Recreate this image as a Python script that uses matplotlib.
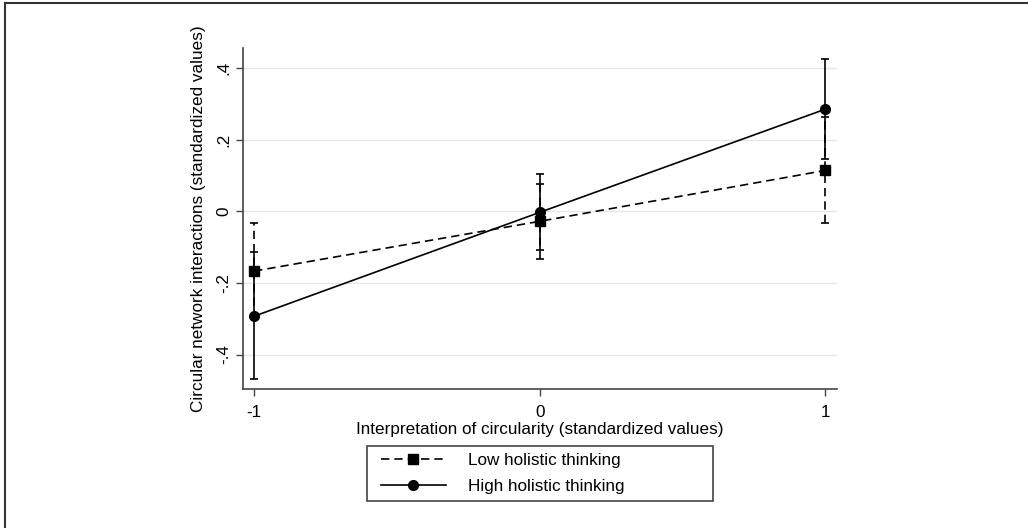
import matplotlib
matplotlib.use("Agg")
import matplotlib.pyplot as plt
from matplotlib.lines import Line2D
from matplotlib.patches import Rectangle

plt.rcParams['font.family'] = ['Liberation Sans', 'DejaVu Sans']

x = [-1, 0, 1]
low_y = [-0.167, -0.028, 0.114]
low_lo = [-0.302, -0.132, -0.034]
low_hi = [-0.032, 0.077, 0.262]
high_y = [-0.293, -0.003, 0.285]
high_lo = [-0.469, -0.109, 0.146]
high_hi = [-0.115, 0.103, 0.424]

xticks = [-1, 0, 1]
xticklabels = ["-1", "0", "1"]
yticks = [-0.4, -0.2, 0, 0.2, 0.4]
yticklabels = ["-.4", "-.2", "0", ".2", ".4"]

fs = 12.3

fig = plt.figure(figsize=(10.28, 5.28), dpi=100)
ax = fig.add_axes([0.2361, 0.2627, 0.5778, 0.6458])

low_err = [[y - lo for y, lo in zip(low_y, low_lo)], [hi - y for y, hi in zip(low_y, low_hi)]]
high_err = [[y - lo for y, lo in zip(high_y, high_lo)], [hi - y for y, hi in zip(high_y, high_hi)]]

l1 = ax.errorbar(x, low_y, yerr=low_err, color='black', linestyle='--', dashes=(5, 3),
                 marker='s', markersize=6.5, lw=1.2, capsize=2.8, capthick=1.2, elinewidth=1.2,
                 label="Low holistic thinking")
l1[2][0].set_linestyle((0, (5, 3)))
l2 = ax.errorbar(x, high_y, yerr=high_err, color='black', linestyle='-',
                 marker='o', markersize=7, lw=1.2, capsize=2.8, capthick=1.2, elinewidth=1.2,
                 label="High holistic thinking")

ax.set_xlim(-1.04, 1.04)
ax.set_ylim(-0.497, 0.455)
ax.set_xticks(xticks)
ax.set_xticklabels(xticklabels)
ax.set_yticks(yticks)
ax.set_yticklabels(yticklabels, rotation=90, va='center')
ax.tick_params(labelsize=fs, length=5, width=1, color='#444444')
ax.tick_params(axis='x', pad=6.5)
ax.grid(axis='y', color='#e6e6e6', lw=1)
ax.set_axisbelow(True)
for s in ['top', 'right']:
    ax.spines[s].set_visible(False)
for s in ['left', 'bottom']:
    ax.spines[s].set_color('#444444')
    ax.spines[s].set_linewidth(1.2)

ax.set_xlabel("Interpretation of circularity (standardized values)", fontsize=fs, labelpad=1)
ax.set_ylabel("Circular network interactions (standardized values)", fontsize=fs, labelpad=7)

# legend without frame, frame drawn separately so the handles sit further in
h1 = Line2D([], [], color='black', linestyle='--', dashes=(5, 3), marker='s', markersize=6.5, lw=1.2)
h2 = Line2D([], [], color='black', linestyle='-', marker='o', markersize=7, lw=1.2)
leg = fig.legend([h1, h2], ["Low holistic thinking", "High holistic thinking"],
                 loc='upper left',
                 bbox_to_anchor=(374 / 1028, 1 - 446 / 528),
                 borderaxespad=0, frameon=False,
                 fontsize=fs, handlelength=3.8, handletextpad=1.3, numpoints=1,
                 borderpad=0.4, labelspacing=0.65)
fig.add_artist(Rectangle((366.7 / 1028, 1 - 500.7 / 528), 346 / 1028, 54.7 / 528,
                         transform=fig.transFigure, fill=False, edgecolor='#444444', lw=1.2))

# frame around the picture (top and left only)
fig.add_artist(Line2D([5 / 1028, 5 / 1028], [0, 1 - 3 / 528], transform=fig.transFigure, color='#333333', lw=1.5))
fig.add_artist(Line2D([5 / 1028, 1], [1 - 3 / 528, 1 - 3 / 528], transform=fig.transFigure, color='#333333', lw=1.5))

fig.savefig("out.png", dpi=100)
